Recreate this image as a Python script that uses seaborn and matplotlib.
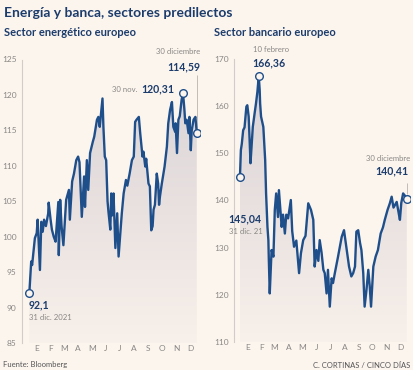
import numpy as np
import pandas as pd
import seaborn as sns
import matplotlib.pyplot as plt
import matplotlib.dates as mdates
from matplotlib.colors import LinearSegmentedColormap

# days since 31 dic. 2021
energy_days = [0, 4, 6, 12, 16, 18, 23, 26, 29, 32, 36, 41, 42, 46, 49, 53, 57, 63, 64, 67,
               70, 74, 80, 86, 88, 93, 97, 102, 106, 109, 114, 119, 121, 125, 128, 132, 138,
               141, 147, 150, 153, 159, 161, 164, 167, 170, 172, 176, 178, 180, 183, 187, 191,
               194, 198, 201, 205, 210, 213, 218, 223, 227, 230, 233, 238, 241, 246, 248, 252,
               254, 259, 262, 265, 268, 270, 273, 277, 280, 282, 284, 288, 294, 299, 302, 306,
               310, 313, 317, 318, 321, 324, 327, 331, 334, 337, 339, 342, 346, 348, 351, 353,
               357, 361, 364]
energy_vals = [92.1, 96.5, 96.0, 99.8, 100.5, 102.4, 95.3, 102.1, 100.7, 102.4, 101.5, 103.3,
               104.8, 102.5, 101.0, 100.0, 99.3, 104.9, 97.4, 105.2, 101.5, 98.8, 105.2, 106.6,
               102.4, 107.8, 108.9, 110.8, 111.3, 110.5, 102.8, 108.5, 104.2, 110.8, 106.6,
               111.8, 113.4, 114.1, 116.5, 116.9, 115.5, 119.5, 115.5, 111.3, 110.8, 105.0,
               103.5, 101.0, 106.1, 103.0, 106.1, 98.4, 103.3, 97.2, 100.7, 103.3, 106.1, 108.0,
               107.2, 108.9, 110.8, 111.3, 116.2, 116.5, 116.9, 114.6, 111.3, 112.0, 109.9,
               111.0, 107.5, 107.1, 100.9, 101.5, 103.8, 104.5, 108.9, 107.5, 104.5, 105.7,
               107.5, 109.9, 112.7, 116.0, 117.9, 119.0, 115.5, 114.8, 116.0, 111.8, 116.5,
               117.0, 119.3, 120.31, 118.0, 116.0, 116.5, 114.6, 116.9, 112.2, 115.0, 116.5,
               116.9, 114.59]

bank_days = [0, 2, 4, 7, 10, 14, 16, 19, 21, 23, 26, 28, 32, 35, 38, 41, 43, 44, 46, 51, 55,
             57, 60, 62, 63, 65, 69, 73, 76, 79, 83, 85, 91, 94, 98, 101, 105, 111, 114, 118,
             123, 129, 133, 138, 143, 149, 155, 160, 163, 167, 171, 174, 178, 182, 185, 189,
             192, 196, 200, 203, 207, 214, 222, 227, 233, 238, 243, 247, 251, 254, 258, 262,
             265, 269, 272, 276, 280, 283, 286, 291, 296, 301, 307, 312, 316, 322, 327, 331,
             335, 342, 346, 349, 352, 356, 360, 364]
bank_vals = [145.04, 150.7, 152.0, 154.9, 155.5, 159.9, 160.2, 157.8, 153.0, 147.9, 152.5,
             155.6, 158.5, 160.6, 163.0, 166.36, 163.5, 160.6, 157.8, 155.6, 148.6, 141.5,
             134.4, 131.6, 127.4, 120.3, 129.5, 128.1, 138.0, 141.5, 136.5, 142.2, 134.4,
             137.0, 133.0, 137.0, 136.2, 140.1, 133.5, 130.2, 131.5, 124.6, 128.8, 131.6,
             132.5, 139.4, 138.0, 135.9, 126.0, 129.5, 127.2, 131.6, 129.0, 125.3, 124.6,
             120.3, 125.3, 117.5, 123.5, 122.5, 124.6, 128.1, 132.3, 133.7, 129.5, 126.0,
             123.9, 124.6, 126.0, 133.4, 133.7, 131.0, 129.5, 124.6, 117.5, 121.0, 125.3,
             122.0, 117.5, 126.0, 128.1, 129.5, 133.0, 134.3, 135.9, 138.0, 139.4, 140.8,
             138.5, 139.7, 137.5, 135.9, 139.5, 141.5, 141.0, 140.41]

months = ['E', 'F', 'M', 'A', 'M', 'J', 'J', 'A', 'S', 'O', 'N', 'D']

base = pd.Timestamp('2021-12-31')
navy = '#1f4f8b'
dark = '#1c3c6c'
grey = '#8a8784'
bg = '#fcf5ee'

sns.set_style('white')
plt.rcParams['font.family'] = ['Lato', 'DejaVu Sans']

fig = plt.figure(figsize=(4.14, 3.70), dpi=100)
fig.patch.set_facecolor(bg)

def px(x, y):
    return x / 414, 1 - y / 370

cmap = LinearSegmentedColormap.from_list('g', ['#f8f0ea', '#d8d1d5'])

def panel(rect, days, vals, ylim, yticks, xlpad):
    ax = fig.add_axes(rect)
    ax.set_facecolor('none')
    dates = base + pd.to_timedelta(days, unit='D')
    df = pd.DataFrame({'fecha': dates, 'valor': vals})
    # gradient fill under the line
    poly = ax.fill_between(df['fecha'], df['valor'], ylim[0], color='none', lw=0)
    x0 = mdates.date2num(base - pd.Timedelta(days=xlpad))
    x1 = mdates.date2num(base + pd.Timedelta(days=371))
    grad = np.linspace(0, 1, 256).reshape(-1, 1)
    im = ax.imshow(grad, extent=[mdates.date2num(dates[0]), mdates.date2num(dates[-1]), ylim[0], ylim[1]],
                   origin='lower', aspect='auto', cmap=cmap, zorder=1)
    im.set_clip_path(poly.get_paths()[0], transform=ax.transData)
    sns.lineplot(data=df, x='fecha', y='valor', color=navy, linewidth=1.7, ax=ax, zorder=3)
    ax.set_xlim(x0, x1)
    ax.set_ylim(*ylim)
    ax.set_yticks(yticks)
    ax.set_xlabel('')
    ax.set_ylabel('')
    for s in ['top', 'right', 'bottom']:
        ax.spines[s].set_visible(False)
    ax.spines['left'].set_color('#d2cbc6')
    ax.spines['left'].set_linewidth(0.8)
    ax.tick_params(axis='y', length=2.5, width=0.6, color='#d2cbc6', labelsize=6,
                   labelcolor=grey, pad=1.5)
    starts = [pd.Timestamp(2022, m, 1) for m in range(1, 13)]
    mids = [pd.Timestamp(2022, m, 16) for m in range(1, 13)]
    ax.set_xticks(starts)
    ax.set_xticklabels([])
    ax.set_xticks(mids, minor=True)
    ax.set_xticklabels(months, minor=True)
    ax.tick_params(axis='x', which='major', length=6, width=0.6, color='#d2cbc6', direction='out')
    ax.tick_params(axis='x', which='minor', length=0, labelsize=6, labelcolor=grey, pad=1.5)
    return ax, dates

axL, dL = panel([22 / 414, 1 - 343 / 370, 178 / 414, 283.5 / 370], energy_days, energy_vals,
                (85, 125), [85, 90, 95, 100, 105, 110, 115, 120, 125], 16)
axR, dR = panel([234 / 414, 1 - 342 / 370, 176 / 414, 283 / 370], bank_days, bank_vals,
                (110, 170), [110, 120, 130, 140, 150, 160, 170], 13)

def mark(ax, d, v):
    ax.plot([d], [v], marker='o', ms=5.5, mfc=bg, mec=navy, mew=1.0, zorder=5)

def fmt(v):
    return ('%g' % v).replace('.', ',')

# energy markers
mark(axL, dL[0], energy_vals[0])
i_max = int(np.argmax(energy_vals))
mark(axL, dL[i_max], energy_vals[i_max])
mark(axL, dL[-1], energy_vals[-1])
axL.vlines(dL[-1], energy_vals[-1] + 0.6, 122.8, color='#b8b2ad', lw=0.6, zorder=2)

# bank markers
mark(axR, dR[0], bank_vals[0])
j_max = int(np.argmax(bank_vals))
mark(axR, dR[j_max], bank_vals[j_max])
mark(axR, dR[-1], bank_vals[-1])
axR.vlines(dR[-1], bank_vals[-1] + 1.0, 143.8, color='#b8b2ad', lw=0.6, zorder=2)

num = dict(fontsize=7.6, fontweight='bold', color=dark, va='center')
small = dict(fontsize=5.6, color=grey, va='center')

# texts
fig.text(*px(4, 13), 'Energía y banca, sectores predilectos', fontsize=10, fontweight='bold',
         color=dark, va='center', ha='left')
fig.text(*px(4, 32), 'Sector energético europeo', fontsize=8, fontweight='bold',
         color=dark, va='center', ha='left')
fig.text(*px(214, 32), 'Sector bancario europeo', fontsize=8, fontweight='bold',
         color=dark, va='center', ha='left')

fig.text(*px(200, 51), '30 diciembre', ha='right', **small)
fig.text(*px(200, 67), fmt(energy_vals[-1]), ha='right', **num)
t_nov = fig.text(*px(174, 89), fmt(energy_vals[i_max]), ha='right', **num)
fig.canvas.draw()
bb = t_nov.get_window_extent()
fig.text((bb.x0 - 3) / 414, 1 - 89.5 / 370, '30 nov.', ha='right', **small)
fig.text(*px(29, 305), fmt(energy_vals[0]), ha='left', **num)
fig.text(*px(29, 317.5), '31 dic. 2021', ha='left', **small)

fig.text(*px(253, 49), '10 febrero', ha='left', **small)
fig.text(*px(252, 63), fmt(bank_vals[j_max]), ha='left', **num)
fig.text(*px(228, 219), fmt(bank_vals[0]), ha='left', **num)
fig.text(*px(229, 232), '31 dic. 21', ha='left', **small)
fig.text(*px(410, 158), '30 diciembre', ha='right', **small)
fig.text(*px(408, 171), fmt(bank_vals[-1]), ha='right', **num)

fig.text(*px(3, 365), 'Fuente: Bloomberg', fontsize=5.5, color='#555555', va='center', ha='left')
fig.text(*px(410, 365), 'C. CORTINAS / CINCO DÍAS', fontsize=5.5, color='#555555',
         va='center', ha='right')

fig.savefig('out.png', dpi=100, facecolor=bg)
